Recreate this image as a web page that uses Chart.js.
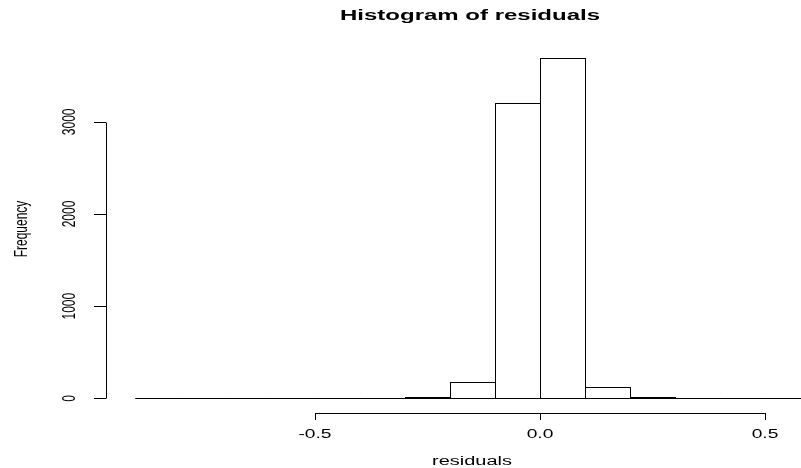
<!DOCTYPE html>
<html lang="en">
<head>
    <meta charset="UTF-8">
    <title>Histogram of residuals</title>
    <script src="https://cdn.jsdelivr.net/npm/chart.js@4.4.0/dist/chart.umd.min.js"></script>
    <style>
        html, body { margin: 0; padding: 0; background: #ffffff; }
        #wrap { position: relative; width: 801px; height: 468px; }
    </style>
</head>
<body>
    <div id="wrap"><canvas id="histChart" width="801" height="468"></canvas></div>

    <script>
        // histogram bins (width 0.1) and counts
        var binStarts = [-0.9, -0.8, -0.7, -0.6, -0.5, -0.4, -0.3, -0.2, -0.1, 0.0, 0.1, 0.2, 0.3, 0.4, 0.5];
        var counts = [1, 2, 2, 3, 4, 8, 20, 177, 3207, 3696, 127, 10, 5, 2, 3];
        var binWidth = 0.1;
        var xTicks = [-0.5, 0.0, 0.5];
        var xTickLabels = ['-0.5', '0.0', '0.5'];
        var yTicks = [0, 1000, 2000, 3000];
        var yTickLabels = ['0', '1000', '2000', '3000'];

        var points = binStarts.map(function (b, i) {
            return { x: b + binWidth / 2, y: counts[i] };
        });

        // the picture is stretched sideways, so text is widened to match
        var stretch = 1.6;

        function wideText(ctx, txt, x, y) {
            ctx.save();
            ctx.translate(x, y);
            ctx.scale(stretch, 1);
            ctx.fillText(txt, 0, 0);
            ctx.restore();
        }

        function upText(ctx, txt, x, y) {
            ctx.save();
            ctx.translate(x, y);
            ctx.rotate(-Math.PI / 2);
            ctx.scale(1, stretch);
            ctx.fillText(txt, 0, 0);
            ctx.restore();
        }

        // histogram rectangles, R style axes, title and labels
        var rHist = {
            id: 'rHist',
            afterDraw: function (chart) {
                var ctx = chart.ctx;
                var xs = chart.scales.x, ys = chart.scales.y;
                var axisY = 413, axisX = 106;
                ctx.save();
                ctx.strokeStyle = '#000';
                ctx.fillStyle = '#000';
                ctx.lineWidth = 1;

                // bars
                var base = Math.round(ys.getPixelForValue(0)) + 0.5;
                binStarts.forEach(function (b, i) {
                    var l = Math.round(xs.getPixelForValue(b)) + 0.5;
                    var r = Math.round(xs.getPixelForValue(b + binWidth)) + 0.5;
                    var t = Math.round(ys.getPixelForValue(counts[i])) + 0.5;
                    ctx.strokeRect(l, t, r - l, base - t);
                });

                // x axis
                var x0 = xs.getPixelForValue(xTicks[0]);
                var x1 = xs.getPixelForValue(xTicks[xTicks.length - 1]);
                ctx.beginPath();
                ctx.moveTo(Math.round(x0) + 0.5, axisY + 0.5);
                ctx.lineTo(Math.round(x1) + 0.5, axisY + 0.5);
                xTicks.forEach(function (t) {
                    var px = Math.round(xs.getPixelForValue(t)) + 0.5;
                    ctx.moveTo(px, axisY);
                    ctx.lineTo(px, axisY + 7);
                });
                ctx.stroke();
                ctx.font = '12px "Liberation Sans", Arial, sans-serif';
                ctx.textAlign = 'center';
                ctx.textBaseline = 'middle';
                xTicks.forEach(function (t, i) {
                    wideText(ctx, xTickLabels[i], xs.getPixelForValue(t), 435);
                });

                // y axis
                var y0 = ys.getPixelForValue(yTicks[0]);
                var y1 = ys.getPixelForValue(yTicks[yTicks.length - 1]);
                ctx.beginPath();
                ctx.moveTo(axisX + 0.5, Math.round(y0) + 0.5);
                ctx.lineTo(axisX + 0.5, Math.round(y1) + 0.5);
                yTicks.forEach(function (t) {
                    var py = Math.round(ys.getPixelForValue(t)) + 0.5;
                    ctx.moveTo(axisX, py);
                    ctx.lineTo(axisX - 12, py);
                });
                ctx.stroke();
                yTicks.forEach(function (t, i) {
                    upText(ctx, yTickLabels[i], 70, ys.getPixelForValue(t));
                });

                // axis titles
                upText(ctx, 'Frequency', 22, 229);
                ctx.font = '12.5px "Liberation Sans", Arial, sans-serif';
                wideText(ctx, 'residuals', 472, 462);

                // main title
                ctx.font = 'bold 15px "Liberation Sans", Arial, sans-serif';
                wideText(ctx, 'Histogram of residuals', 470, 16);
                ctx.restore();
            }
        };

        var ctx = document.getElementById('histChart').getContext('2d');
        var histChart = new Chart(ctx, {
            type: 'bar',
            data: {
                datasets: [{
                    data: points,
                    backgroundColor: 'rgba(0,0,0,0)',
                    borderWidth: 0,
                    barPercentage: 1.0,
                    categoryPercentage: 1.0
                }]
            },
            options: {
                responsive: false,
                animation: false,
                layout: { padding: { left: 108, right: 0, top: 44, bottom: 56 } },
                plugins: {
                    legend: { display: false },
                    tooltip: { enabled: false }
                },
                scales: {
                    x: { type: 'linear', min: -0.96, max: 0.58, display: false, offset: false },
                    y: { min: -148, max: 3844, display: false }
                }
            },
            plugins: [rHist]
        });
    </script>
</body>
</html>
